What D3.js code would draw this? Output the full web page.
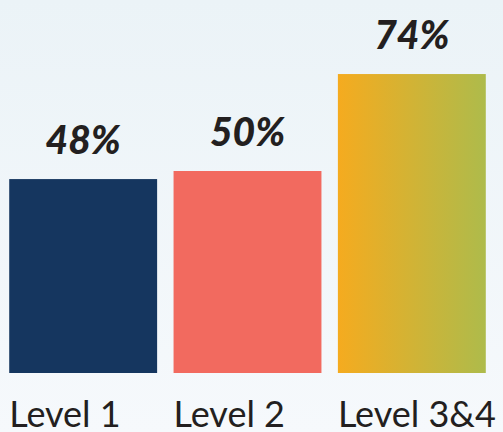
<!DOCTYPE html>
<html><head><meta charset="utf-8">
<script src="https://cdn.jsdelivr.net/npm/d3@7"></script>
<style>html,body{margin:0;padding:0;}svg{display:block;}</style>
</head><body>
<script>
const categories = ["Level 1", "Level 2", "Level 3&4"];
const values = [48, 50, 74];
const valueLabels = ["48%", "50%", "74%"];

const W = 503, H = 432;
const svg = d3.select("body").append("svg").attr("width", W).attr("height", H);
const defs = svg.append("defs");
const bg = defs.append("linearGradient").attr("id", "bg").attr("x1", 0).attr("y1", 0).attr("x2", 0).attr("y2", 1);
bg.append("stop").attr("offset", "0%").attr("stop-color", "#ebf3f7");
bg.append("stop").attr("offset", "100%").attr("stop-color", "#f6f9fc");
const g3 = defs.append("linearGradient").attr("id", "g3").attr("x1", 0).attr("y1", 0).attr("x2", 1).attr("y2", 0);
g3.append("stop").attr("offset", "0%").attr("stop-color", "#f5ab1f");
g3.append("stop").attr("offset", "100%").attr("stop-color", "#aebb4b");
svg.append("rect").attr("width", W).attr("height", H).attr("fill", "url(#bg)");

const fills = ["#15365f", "#f26a5f", "url(#g3)"];
const x = d3.scaleBand().domain(categories).range([1, 494]).paddingInner(0.1).paddingOuter(0.05);
const y = d3.scaleLinear().domain([0, 100]).range([373, -31]);

svg.selectAll("rect.bar").data(categories).join("rect").attr("class", "bar")
  .attr("x", d => x(d)).attr("width", x.bandwidth())
  .attr("y", (d, i) => y(values[i])).attr("height", (d, i) => y(0) - y(values[i]))
  .attr("fill", (d, i) => fills[i]);

svg.selectAll("text.val").data(categories).join("text").attr("class", "val")
  .attr("x", d => x(d) + x.bandwidth() / 2).attr("y", (d, i) => y(values[i]) - 25)
  .attr("text-anchor", "middle").attr("font-family", "Lato").attr("font-weight", "900")
  .attr("font-style", "italic").attr("font-size", 39).attr("fill", "#231f20")
  .text((d, i) => valueLabels[i]);

svg.selectAll("text.cat").data(categories).join("text").attr("class", "cat")
  .attr("x", d => x(d)).attr("y", 427)
  .attr("font-family", "Lato").attr("font-size", 36).attr("fill", "#231f20")
  .text(d => d);
</script>
</body></html>
